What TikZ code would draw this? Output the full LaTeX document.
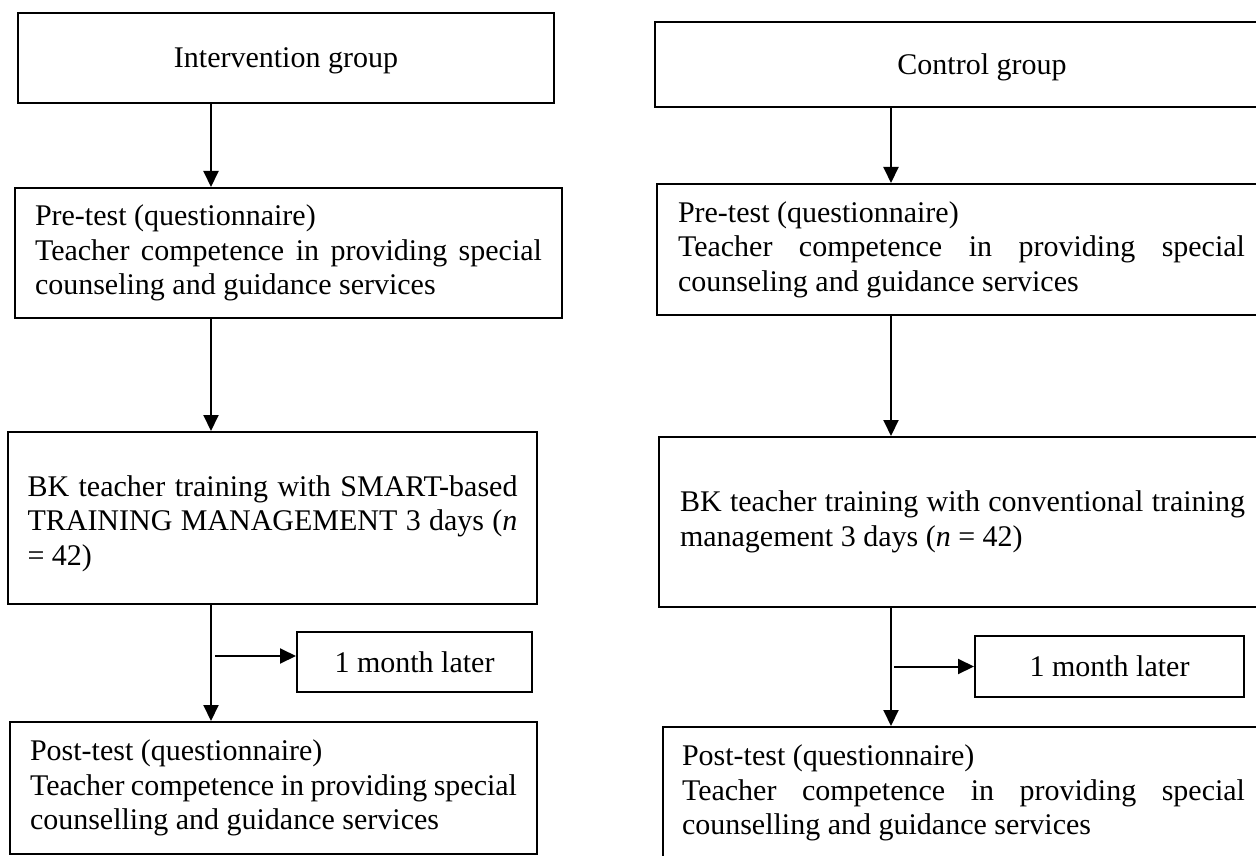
\documentclass[tikz,border=0pt]{standalone}
\usepackage{fontspec}
\setmainfont{Liberation Serif}
\usetikzlibrary{arrows.meta}
\hyphenpenalty=10000
\exhyphenpenalty=10000

\begin{document}
\begin{tikzpicture}[x=1pt,y=-1pt,
  box/.style={draw,line width=2pt,anchor=north west,inner ysep=0pt,font=\fontsize{30pt}{34.5pt}\selectfont},
  txt/.style={box,align=justify,inner xsep=20pt},
  arr/.style={line width=2pt,-{Triangle[length=16pt,width=15pt]}}]
\useasboundingbox (0,0) rectangle (1256,856);

% intervention group (left)
\node[box,text depth=0pt,minimum width=536pt,minimum height=90pt] (ig) at (17,12) {Intervention group};
\node[txt,text width=507pt,minimum height=130pt] (prel) at (14,187)
  {Pre-test (questionnaire)\\ Teacher competence in providing special\linebreak counseling and guidance services};
\node[txt,text width=490pt,inner xsep=19.5pt,minimum height=172pt] (trainl) at (7,431)
  {\rule{0pt}{32pt}BK teacher training with SMART-based\linebreak TRAINING MANAGEMENT 3 days (\emph{n}\linebreak = 42)};
\node[box,minimum width=235pt,minimum height=60pt] (laterl) at (296,631) {1 month later};
\node[txt,text width=487pt,minimum height=132pt] (postl) at (9,721)
  {Post-test (questionnaire)\\ Teacher competence in providing special\linebreak counselling and guidance services};

% control group (right)
\node[box,text depth=0pt,minimum width=654pt,minimum height=85pt] (cg) at (654,21) {Control group};
\node[txt,text width=567pt,inner xsep=21pt,minimum height=131pt] (prer) at (656,183)
  {Pre-test (questionnaire)\\ Teacher competence in providing special\linebreak counseling and guidance services};
\node[txt,text width=565pt,inner xsep=21pt,minimum height=170pt] (trainr) at (658,436)
  {BK teacher training with conventional training\linebreak management 3 days (\emph{n} = 42)};
\node[box,minimum width=269pt,minimum height=61pt] (laterr) at (974,635) {1 month later};
\node[txt,text width=563pt,inner xsep=19pt,minimum height=160pt] (postr) at (662,726)
  {Post-test (questionnaire)\\ Teacher competence in providing special\linebreak counselling and guidance services\\ \mbox{}};

\coordinate (lx) at (211,0);
\coordinate (rx) at (891,0);
\foreach \a/\b in {ig/prel,prel/trainl,trainl/postl}
  \draw[arr] (\a.south -| lx) -- (\b.north -| lx);
\foreach \a/\b in {cg/prer,prer/trainr,trainr/postr}
  \draw[arr] (\a.south -| rx) -- (\b.north -| rx);
\draw[arr] ([xshift=4pt,yshift=6pt]laterl.west -| lx) -- ([yshift=6pt]laterl.west);
\draw[arr] ([xshift=3pt]laterr.west -| rx) -- (laterr.west);
\end{tikzpicture}
\end{document}
